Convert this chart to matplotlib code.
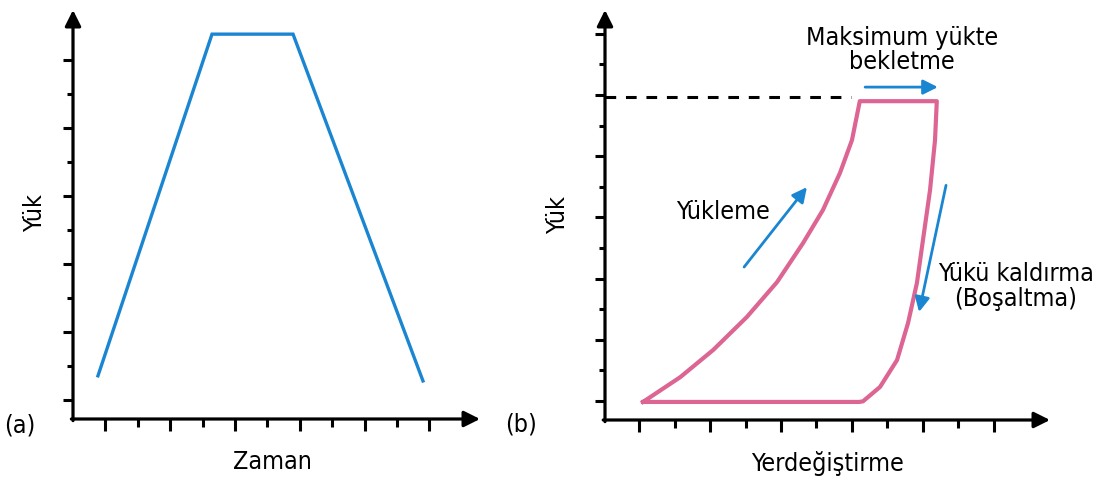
import matplotlib
matplotlib.use('Agg')
from matplotlib import pyplot as plt

plt.rcParams['font.family'] = ['DejaVu Sans']
plt.rcParams['font.stretch'] = 'condensed'

# (a) load vs time
time_a = [0.77, 4.29, 6.79, 10.80]
load_a = [1.71, 11.76, 11.76, 1.56]

# (b) load vs displacement: loading branch, hold, unloading branch, bottom
disp_load = [1.11, 2.16, 3.09, 4.04, 4.89, 5.62, 6.18, 6.66, 7.00, 7.17, 7.22]
load_load = [0.97, 1.78, 2.67, 3.75, 4.89, 6.16, 7.24, 8.45, 9.53, 10.51, 10.80]
disp_hold = [7.22, 9.39]
load_hold = [10.80, 10.80]
disp_unload = [9.39, 9.34, 9.20, 9.00, 8.83, 8.58, 8.27, 7.79, 7.31, 7.20]
load_unload = [10.80, 9.53, 7.90, 6.26, 4.86, 3.55, 2.34, 1.46, 0.99, 0.97]
disp_base = [7.20, 1.11]
load_base = [0.97, 0.97]
max_load = 10.93

ticks = list(range(1, 12))
BLUE = '#1a86d2'
PINK = '#dc6593'
W, H = 1115, 479
FS = 18

fig = plt.figure(figsize=(W / 100, H / 100), dpi=100)


def frame(ax, yticks):
    for s in ax.spines.values():
        s.set_visible(False)
    ax.set_xticks([t for t in ticks if t % 2 == 1])
    ax.set_xticks([t for t in ticks if t % 2 == 0], minor=True)
    ax.set_yticks([t for t in yticks if t % 2 == 1])
    ax.set_yticks([t for t in yticks if t % 2 == 0], minor=True)
    ax.tick_params(axis='x', which='major', length=8.5, width=2.2, direction='out')
    ax.tick_params(axis='x', which='minor', length=6, width=2.2, direction='out')
    ax.tick_params(axis='y', which='major', length=7.5, width=2.2, direction='out')
    ax.tick_params(axis='y', which='minor', length=4, width=2.2, direction='out')
    ax.tick_params(labelbottom=False, labelleft=False)
    arrow = dict(arrowstyle='-|>', lw=2.3, color='k', mutation_scale=24, shrinkA=0, shrinkB=0)
    ax.annotate('', xy=(1, 0), xytext=(-0.004, 0), xycoords='axes fraction', arrowprops=arrow)
    ax.annotate('', xy=(0, 1), xytext=(0, -0.004), xycoords='axes fraction', arrowprops=arrow)


# panel (a)
ax1 = fig.add_axes([73 / W, (H - 419) / H, (480 - 73) / W, (419 - 10) / H])
ax1.set_xlim(0, 12.56)
ax1.set_ylim(0.44, 12.47)
frame(ax1, list(range(1, 12)))
ax1.plot(time_a, load_a, color=BLUE, lw=2.4, solid_joinstyle='miter')
ax1.text(-1.17, 6.5, 'Yük', rotation=90, ha='center', va='center', fontsize=FS)
ax1.text(6.17, -0.82, 'Zaman', ha='center', va='center', fontsize=FS)
ax1.text(-1.64, 0.26, '(a)', ha='center', va='center', fontsize=FS)

# panel (b)
ax2 = fig.add_axes([605 / W, (H - 420) / H, (1050 - 605) / W, (420 - 10) / H])
ax2.set_xlim(0.04, 12.58)
ax2.set_ylim(0.38, 13.78)
frame(ax2, list(range(1, 14)))
ax2.plot([0.04, 6.98], [max_load, max_load], color='k', lw=2.2, ls=(0, (3.5, 3.2)))
ax2.plot(disp_load + disp_hold[1:] + disp_unload[1:] + disp_base[1:],
         load_load + load_hold[1:] + load_unload[1:] + load_base[1:],
         color=PINK, lw=3, solid_joinstyle='round')
blue_arrow = dict(arrowstyle='-|>', lw=2, color=BLUE, mutation_scale=22, shrinkA=0, shrinkB=0)
ax2.annotate('', xy=(9.42, 11.26), xytext=(7.37, 11.26), arrowprops=blue_arrow)
ax2.annotate('', xy=(5.73, 7.99), xytext=(3.96, 5.38), arrowprops=blue_arrow)
ax2.annotate('', xy=(8.89, 3.91), xytext=(9.65, 8.05), arrowprops=blue_arrow)
ax2.text(8.41, 12.47, 'Maksimum yükte\nbekletme', ha='center', va='center', fontsize=FS, linespacing=1.0)
ax2.text(3.37, 7.18, 'Yükleme', ha='center', va='center', fontsize=FS)
ax2.text(11.62, 4.73, 'Yükü kaldırma\n(Boşaltma)', ha='center', va='center', fontsize=FS, linespacing=1.05)
ax2.text(-1.28, 7.08, 'Yük', rotation=90, ha='center', va='center', fontsize=FS)
ax2.text(6.32, -1.03, 'Yerdeğiştirme', ha='center', va='center', fontsize=FS)
ax2.text(-2.32, 0.22, '(b)', ha='center', va='center', fontsize=FS)

for ax in (ax1, ax2):
    for t in ax.texts:
        t.set_clip_on(False)

fig.savefig('out.png', dpi=100)
